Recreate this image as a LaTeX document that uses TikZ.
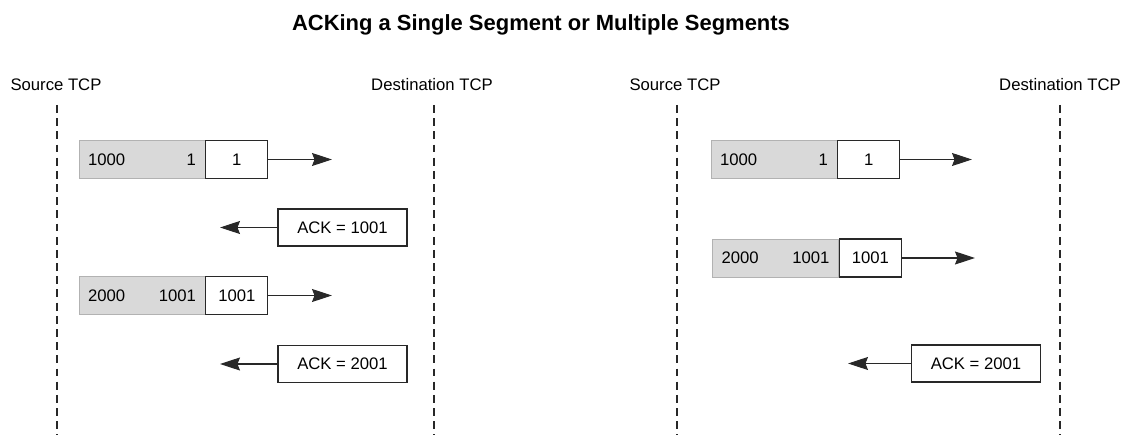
\documentclass[tikz,border=0pt]{standalone}
\usepackage{fontspec}
\setmainfont{Liberation Sans}
\usetikzlibrary{arrows.meta,positioning}
\definecolor{segfill}{RGB}{217,217,217}
\definecolor{inkgray}{RGB}{40,40,40}
\tikzset{
  hdr/.style    ={font=\fontsize{9.5}{11}\selectfont, inner sep=0pt},
  ttl/.style    ={font=\fontsize{12.5}{14}\selectfont\bfseries, inner sep=0pt},
  life/.style   ={draw=inkgray, line width=0.6pt, dash pattern=on 4.5pt off 3pt},
  segdata/.style={fill=segfill, draw=black!30, line width=0.4pt, minimum width=2.52cm, minimum height=0.76cm,
                  text width=2.16cm, inner xsep=0.18cm, font=\fontsize{9.5}{11}\selectfont},
  seghdr/.style ={draw=inkgray, fill=white, line width=0.6pt, minimum width=1.24cm, minimum height=0.76cm,
                  inner sep=0pt, font=\fontsize{9.5}{11}\selectfont},
  ackbox/.style ={draw=inkgray, fill=white, line width=0.6pt, minimum width=2.58cm, minimum height=0.74cm,
                  inner sep=0pt, font=\fontsize{9.5}{11}\selectfont},
  flow/.style   ={-{Stealth[length=4mm, width=2.6mm, inset=0.5mm]}, draw=inkgray, line width=0.6pt}
}

\begin{document}
\begin{tikzpicture}[x=0.02cm, y=-0.02cm]
  \useasboundingbox (0,0) rectangle (1126,435);
  \node[ttl] (title) at (541,25) {ACKing a Single Segment or Multiple Segments};
  % left: one ACK per segment
  \node[hdr] (srcL) at (56,85)  {Source TCP};
  \node[hdr] (dstL) at (432,85) {Destination TCP};
  \coordinate (srcLtop) at (57,105);  \coordinate (srcLbot) at (57,435);
  \coordinate (dstLtop) at (434,105); \coordinate (dstLbot) at (434,435);
  \draw[life] (srcLtop) -- (srcLbot);
  \draw[life] (dstLtop) -- (dstLbot);
  \node[segdata] (dataL1) at (142,159.5) {1000\hfill 1};
  \node[seghdr, anchor=west] (hdrL1) at (dataL1.east) {1};
  \coordinate (tipL1) at (332,159.5);
  \draw[flow] (hdrL1) -- (tipL1);
  \node[ackbox] (ackL1) at (342.5,227.5) {ACK = 1001};
  \coordinate (tipL2) at (220,227.5);
  \draw[flow] (ackL1) -- (tipL2);
  \node[segdata] (dataL2) at (142,295.5) {2000\hfill 1001};
  \node[seghdr, anchor=west] (hdrL2) at (dataL2.east) {1001};
  \coordinate (tipL3) at (332,295.5);
  \draw[flow] (hdrL2) -- (tipL3);
  \node[ackbox] (ackL2) at (342.5,364) {ACK = 2001};
  \coordinate (tipL4) at (220,364);
  \draw[flow] (ackL2) -- (tipL4);
  % right: one ACK for two segments
  \node[hdr] (srcR) at (675,85)  {Source TCP};
  \node[hdr] (dstR) at (1060,85) {Destination TCP};
  \coordinate (srcRtop) at (677,105);  \coordinate (srcRbot) at (677,435);
  \coordinate (dstRtop) at (1060,105); \coordinate (dstRbot) at (1060,435);
  \draw[life] (srcRtop) -- (srcRbot);
  \draw[life] (dstRtop) -- (dstRbot);
  \node[segdata] (dataR1) at (774,159.5) {1000\hfill 1};
  \node[seghdr, anchor=west] (hdrR1) at (dataR1.east) {1};
  \coordinate (tipR1) at (972,159.5);
  \draw[flow] (hdrR1) -- (tipR1);
  \node[segdata] (dataR2) at (775.5,258) {2000\hfill 1001};
  \node[seghdr, anchor=west] (hdrR2) at (dataR2.east) {1001};
  \coordinate (tipR2) at (975,258);
  \draw[flow] (hdrR2) -- (tipR2);
  \node[ackbox] (ackR1) at (976,363.5) {ACK = 2001};
  \coordinate (tipR3) at (848,363.5);
  \draw[flow] (ackR1) -- (tipR3);
\end{tikzpicture}
\end{document}
